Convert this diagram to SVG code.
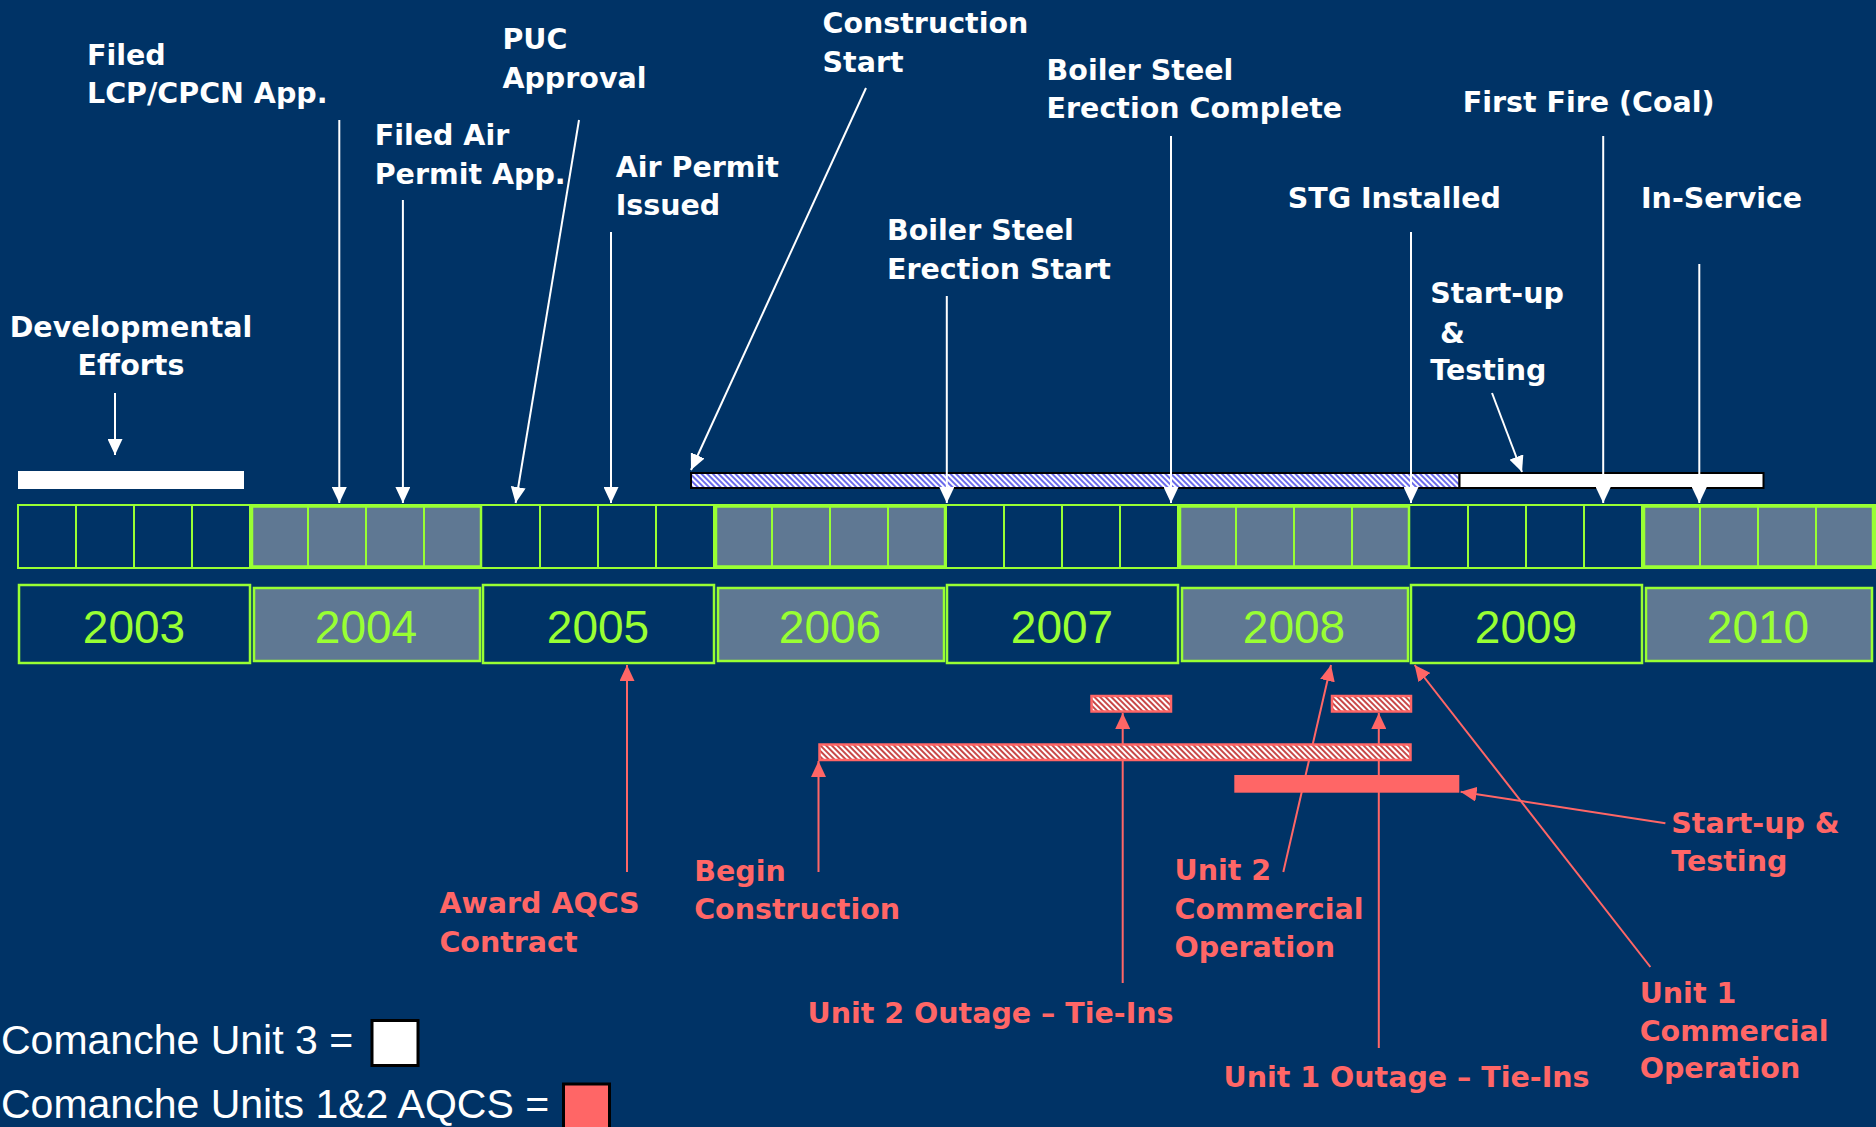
<svg xmlns="http://www.w3.org/2000/svg" width="1876" height="1127" viewBox="0 0 1876 1127">
<defs>
<style>
.lbl{font-family:"DejaVu Sans","Liberation Sans",sans-serif;font-weight:bold;font-size:28.5px;fill:#ffffff}
.red{fill:#ff6666}
.yr{font-family:"Liberation Sans",Arial,sans-serif;font-size:46px;fill:#99ff33;text-anchor:middle}
.leg{font-family:"Liberation Sans",Arial,sans-serif;font-size:41px;fill:#ffffff}
.cell{fill:none;stroke:#99ff33;stroke-width:2}
.shade{fill:#5f7893;stroke:#99ff33;stroke-width:2.5}
.ybox{fill:none;stroke:#99ff33;stroke-width:2.5}
.wl{stroke:#ffffff;stroke-width:2;fill:none;marker-end:url(#aw)}
.rl{stroke:#ff6666;stroke-width:2;fill:none;marker-end:url(#ar)}
</style>
<marker id="aw" viewBox="0 0 16 15" refX="16" refY="7.5" markerWidth="16" markerHeight="15" markerUnits="userSpaceOnUse" orient="auto"><path d="M0,0 L16,7.5 L0,15 z" fill="#ffffff"/></marker>
<marker id="ar" viewBox="0 0 16 15" refX="16" refY="7.5" markerWidth="16" markerHeight="15" markerUnits="userSpaceOnUse" orient="auto"><path d="M0,0 L16,7.5 L0,15 z" fill="#ff6666"/></marker>
<pattern id="hb" width="4" height="4" patternUnits="userSpaceOnUse" patternTransform="rotate(-45)"><rect width="4" height="4" fill="#ffffff"/><rect width="2" height="4" fill="#6b6bea"/></pattern>
<pattern id="hr" width="4" height="4" patternUnits="userSpaceOnUse" patternTransform="rotate(-45)"><rect width="4" height="4" fill="#ffffff"/><rect width="2" height="4" fill="#c84848"/></pattern>
</defs>
<rect width="1876" height="1127" fill="#003366"/>

<g id="months">
<rect class="cell" x="18" y="505" width="1857" height="63"/>
<path class="cell" d="M76,505V568M134,505V568M192,505V568M250,505V568M540,505V568M598,505V568M656,505V568M714,505V568M946,505V568M1004,505V568M1062,505V568M1120,505V568M1178,505V568M1468,505V568M1526,505V568M1584,505V568M1642,505V568"/>
<rect class="shade" x="252" y="506.5" width="229" height="60"/>
<rect class="shade" x="716" y="506.5" width="229" height="60"/>
<rect class="shade" x="1180" y="506.5" width="229" height="60"/>
<rect class="shade" x="1644" y="506.5" width="229" height="60"/>
<path class="cell" d="M308,506.5V566.5M366,506.5V566.5M424,506.5V566.5M772,506.5V566.5M830,506.5V566.5M888,506.5V566.5M1236,506.5V566.5M1294,506.5V566.5M1352,506.5V566.5M1700,506.5V566.5M1758,506.5V566.5M1816,506.5V566.5"/>
</g>

<g id="year-2003"><rect class="ybox" x="19" y="585" width="231" height="78"/><text class="yr" x="134" y="643">2003</text></g>
<g id="year-2004"><rect class="shade" x="254" y="588" width="226" height="73"/><text class="yr" x="366" y="643">2004</text></g>
<g id="year-2005"><rect class="ybox" x="483" y="585" width="231" height="78"/><text class="yr" x="598" y="643">2005</text></g>
<g id="year-2006"><rect class="shade" x="718" y="588" width="226" height="73"/><text class="yr" x="830" y="643">2006</text></g>
<g id="year-2007"><rect class="ybox" x="947" y="585" width="231" height="78"/><text class="yr" x="1062" y="643">2007</text></g>
<g id="year-2008"><rect class="shade" x="1182" y="588" width="226" height="73"/><text class="yr" x="1294" y="643">2008</text></g>
<g id="year-2009"><rect class="ybox" x="1411" y="585" width="231" height="78"/><text class="yr" x="1526" y="643">2009</text></g>
<g id="year-2010"><rect class="shade" x="1646" y="588" width="226" height="73"/><text class="yr" x="1758" y="643">2010</text></g>

<g id="bar-dev"><rect x="18" y="471" width="226" height="18" fill="#ffffff"/></g>
<g id="bar-construction"><rect x="691" y="473" width="768.5" height="15" fill="url(#hb)" stroke="#000000" stroke-width="2"/></g>
<g id="bar-startup"><rect x="1459.5" y="473" width="304" height="15" fill="#ffffff" stroke="#000000" stroke-width="2"/></g>

<g id="connectors-red">
<line class="rl" x1="627" y1="872" x2="627" y2="665"/>
<line class="rl" x1="818.5" y1="872" x2="818.5" y2="761"/>
<line class="rl" x1="1122.7" y1="983" x2="1122.7" y2="713"/>
<line class="rl" x1="1378.8" y1="1048" x2="1378.8" y2="713"/>
<line class="rl" x1="1283.3" y1="872" x2="1331" y2="665"/>
<line class="rl" x1="1650.4" y1="967" x2="1414.6" y2="665"/>
<line class="rl" x1="1665.4" y1="823.3" x2="1460.6" y2="791.7" stroke-width="3"/>
</g>

<g id="bar-aqcs-construction"><rect x="819.5" y="744.5" width="591" height="15.5" fill="url(#hr)" stroke="#ff6666" stroke-width="2.5"/></g>
<g id="bar-unit2-outage"><rect x="1091.5" y="696" width="79.5" height="15.5" fill="url(#hr)" stroke="#ff6666" stroke-width="2.5"/></g>
<g id="bar-unit1-outage"><rect x="1332" y="696" width="79" height="15.5" fill="url(#hr)" stroke="#ff6666" stroke-width="2.5"/></g>
<g id="bar-aqcs-startup"><rect x="1234.3" y="775" width="225" height="17.7" fill="#ff6666"/></g>

<g id="connectors-white">
<line class="wl" x1="115" y1="393" x2="115" y2="455"/>
<line class="wl" x1="339.3" y1="120" x2="339.3" y2="503"/>
<line class="wl" x1="402.9" y1="200" x2="402.9" y2="503"/>
<line class="wl" x1="579" y1="120" x2="515.6" y2="503"/>
<line class="wl" x1="611" y1="232" x2="611" y2="503"/>
<line class="wl" x1="866" y1="88" x2="691" y2="470"/>
<line class="wl" x1="946.8" y1="296" x2="946.8" y2="503"/>
<line class="wl" x1="1171" y1="136" x2="1171" y2="503"/>
<line class="wl" x1="1411" y1="232" x2="1411" y2="503"/>
<line class="wl" x1="1603.2" y1="136" x2="1603.2" y2="503"/>
<line class="wl" x1="1699.3" y1="264" x2="1699.3" y2="503"/>
<line class="wl" x1="1492" y1="393" x2="1522" y2="472"/>
</g>

<g id="lbl-dev"><text class="lbl" x="131" y="336.7" text-anchor="middle">Developmental</text><text class="lbl" x="131" y="375" text-anchor="middle">Efforts</text></g>
<g id="lbl-lcp"><text class="lbl" x="87" y="65">Filed</text><text class="lbl" x="87" y="103.3">LCP/CPCN App.</text></g>
<g id="lbl-filedair"><text class="lbl" x="374.7" y="145">Filed Air</text><text class="lbl" x="374.7" y="184">Permit App.</text></g>
<g id="lbl-puc"><text class="lbl" x="502.4" y="49.3">PUC</text><text class="lbl" x="502.4" y="88.3">Approval</text></g>
<g id="lbl-airpermit"><text class="lbl" x="615.7" y="176.7">Air Permit</text><text class="lbl" x="615.7" y="215">Issued</text></g>
<g id="lbl-constr"><text class="lbl" x="822.5" y="33.3">Construction</text><text class="lbl" x="822.5" y="71.7">Start</text></g>
<g id="lbl-bsestart"><text class="lbl" x="887" y="240">Boiler Steel</text><text class="lbl" x="887" y="279">Erection Start</text></g>
<g id="lbl-bsecomplete"><text class="lbl" x="1046.6" y="80">Boiler Steel</text><text class="lbl" x="1046.6" y="118.3">Erection Complete</text></g>
<g id="lbl-stg"><text class="lbl" x="1287.7" y="208.3">STG Installed</text></g>
<g id="lbl-firstfire"><text class="lbl" x="1462.7" y="111.7">First Fire (Coal)</text></g>
<g id="lbl-inservice"><text class="lbl" x="1641" y="208.3">In-Service</text></g>
<g id="lbl-startup"><text class="lbl" x="1430.3" y="303.3">Start-up</text><text class="lbl" x="1440" y="343.3">&amp;</text><text class="lbl" x="1430.3" y="380">Testing</text></g>

<g id="lbl-award"><text class="lbl red" x="439.4" y="913.3">Award AQCS</text><text class="lbl red" x="439.4" y="951.7">Contract</text></g>
<g id="lbl-begin"><text class="lbl red" x="694.2" y="880.7">Begin</text><text class="lbl red" x="694.2" y="919.3">Construction</text></g>
<g id="lbl-u2outage"><text class="lbl red" x="807.6" y="1023.3">Unit 2 Outage – Tie-Ins</text></g>
<g id="lbl-u2comm"><text class="lbl red" x="1174.6" y="880">Unit 2</text><text class="lbl red" x="1174.6" y="919.3">Commercial</text><text class="lbl red" x="1174.6" y="956.7">Operation</text></g>
<g id="lbl-aqcs-startup"><text class="lbl red" x="1671.3" y="832.7">Start-up &amp;</text><text class="lbl red" x="1671.3" y="870.7">Testing</text></g>
<g id="lbl-u1comm"><text class="lbl red" x="1639.7" y="1002.7">Unit 1</text><text class="lbl red" x="1639.7" y="1041">Commercial</text><text class="lbl red" x="1639.7" y="1078.3">Operation</text></g>
<g id="lbl-u1outage"><text class="lbl red" x="1223.6" y="1087.3">Unit 1 Outage – Tie-Ins</text></g>

<g id="legend">
<text class="leg" x="1" y="1054.3">Comanche Unit 3 =</text>
<rect x="372" y="1020.5" width="46" height="45" fill="#ffffff" stroke="#000000" stroke-width="3"/>
<text class="leg" x="1" y="1118.3" font-size="40">Comanche Units 1&amp;2 AQCS =</text>
<rect x="563.5" y="1084" width="46" height="50" fill="#ff6666" stroke="#000000" stroke-width="3"/>
</g>
</svg>
